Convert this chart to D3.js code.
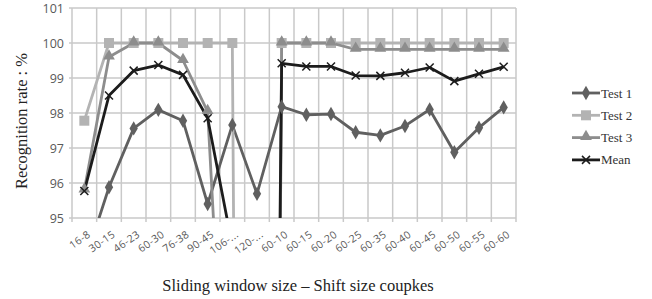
<!doctype html>
<html lang="en">
<head>
  <meta charset="utf-8">
  <title>Recognition rate</title>
  <style>
    body { margin: 0; background: #fff; }
    .grid line { stroke: #c9c9c9; stroke-width: 1.5; }
    .tick-lbl { font: 12.5px "Open Sans", sans-serif; fill: #595959; }
    .x-lbl { font: 10.5px "Open Sans", sans-serif; fill: #595959; letter-spacing: 0.4px; }
    .title { font: 16.5px "Liberation Serif", serif; fill: #222; }
    .legend text { font: 13px "Liberation Serif", serif; fill: #333; }
  </style>
</head>
<body>
  <svg id="chart" width="652" height="299"></svg>
  <script src="https://d3js.org/d3.v7.min.js"></script>
  <script>
// categories (window size - shift size)
const categories = ['16-8', '30-15', '46-23', '60-30', '76-38', '90-45', '106-...', '120-...',
  '60-10', '60-15', '60-20', '60-25', '60-35', '60-40', '60-45', '60-50', '60-55', '60-60'];

// recognition rates
const test1 = [93.7, 95.88, 97.56, 98.09, 97.78, 95.4, 97.66, 95.69,
  98.18, 97.95, 97.97, 97.45, 97.36, 97.63, 98.1, 96.88, 97.58, 98.16];
const test2 = [97.78, 100, 100, 100, 100, 100, 100, 0,
  100, 100, 100, 100, 100, 100, 100, 100, 100, 100];
const test3 = [95.8, 99.6, 100, 100, 99.5, 98.04, 85, 0,
  100, 100, 100, 99.82, 99.82, 99.82, 99.82, 99.82, 99.82, 99.82];
const mean = [95.77, 98.5, 99.21, 99.37, 99.09, 97.85, 94.2, 31.9,
  99.42, 99.33, 99.33, 99.07, 99.06, 99.15, 99.3, 98.91, 99.12, 99.32];

const yTicks = [95, 96, 97, 98, 99, 100, 101];

const series = [
  { name: 'Test 1', values: test1, color: '#606060', marker: 'diamond' },
  { name: 'Test 2', values: test2, color: '#b3b3b3', marker: 'square' },
  { name: 'Test 3', values: test3, color: '#8d8d8d', marker: 'triangle' },
  { name: 'Mean', values: mean, color: '#1c1c1c', marker: 'cross' }
];

const svg = d3.select('#chart');
const plotLeft = 72, plotRight = 516, plotTop = 8, plotBottom = 218;

const x = d3.scaleBand().domain(categories).range([plotLeft, plotRight]);
const y = d3.scaleLinear().domain([95, 101]).range([plotBottom, plotTop]);

// grid
const grid = svg.append('g').attr('class', 'grid');
grid.selectAll('.h').data(yTicks).join('line')
  .attr('x1', plotLeft - 3).attr('x2', plotRight)
  .attr('y1', d => y(d)).attr('y2', d => y(d));
const bounds = categories.map(c => x(c)).concat([plotRight]);
grid.selectAll('.v').data(bounds).join('line')
  .attr('x1', d => d).attr('x2', d => d)
  .attr('y1', plotTop).attr('y2', plotBottom + 4);

// y labels
svg.append('g').selectAll('text').data(yTicks).join('text')
  .attr('class', 'tick-lbl')
  .attr('x', plotLeft - 8).attr('y', d => y(d) + 4.5)
  .attr('text-anchor', 'end')
  .text(d => d);

// x labels
svg.append('g').selectAll('text').data(categories).join('text')
  .attr('class', 'x-lbl')
  .attr('text-anchor', 'end')
  .attr('transform', d => 'translate(' + (x(d) + x.bandwidth() / 2 + 7) + ',' + (plotBottom + 18) + ') rotate(-35)')
  .text(d => d);

// titles
svg.append('text').attr('class', 'title')
  .attr('transform', 'translate(27,121) rotate(-90)')
  .attr('text-anchor', 'middle')
  .text('Recognition rate : %');
svg.append('text').attr('class', 'title')
  .attr('x', 298).attr('y', 291)
  .attr('text-anchor', 'middle')
  .text('Sliding window size \u2013 Shift size coupkes');

// clip to plot
svg.append('clipPath').attr('id', 'clip')
  .append('rect').attr('x', plotLeft - 10).attr('y', plotTop - 10)
  .attr('width', plotRight - plotLeft + 20).attr('height', plotBottom - plotTop + 10);

const line = d3.line()
  .x((d, i) => x(categories[i]) + x.bandwidth() / 2)
  .y(d => y(d));

function drawMarker(g, type, color, cx, cy) {
  if (type === 'diamond') {
    g.append('path').attr('d', d3.symbol(d3.symbolDiamond, 60)())
      .attr('transform', 'translate(' + cx + ',' + cy + ')').attr('fill', color);
  } else if (type === 'square') {
    g.append('rect').attr('x', cx - 5).attr('y', cy - 5).attr('width', 10).attr('height', 10)
      .attr('fill', color);
  } else if (type === 'triangle') {
    g.append('path').attr('d', d3.symbol(d3.symbolTriangle, 60)())
      .attr('transform', 'translate(' + cx + ',' + (cy - 1) + ')').attr('fill', color);
  } else {
    g.append('path').attr('d', 'M-4,-4L4,4M-4,4L4,-4')
      .attr('transform', 'translate(' + cx + ',' + cy + ')')
      .attr('stroke', color).attr('stroke-width', 1.5).attr('fill', 'none');
  }
}

const plot = svg.append('g').attr('clip-path', 'url(#clip)');
series.forEach(s => {
  plot.append('path').datum(s.values)
    .attr('d', line)
    .attr('fill', 'none')
    .attr('stroke', s.color)
    .attr('stroke-width', 2.8)
    .attr('stroke-linejoin', 'round');
});
series.forEach(s => {
  const g = plot.append('g');
  s.values.forEach((v, i) => {
    if (v < 95) return;
    drawMarker(g, s.marker, s.color, x(categories[i]) + x.bandwidth() / 2, y(v));
  });
});

// legend
const legend = svg.append('g').attr('class', 'legend');
series.forEach((s, i) => {
  const ly = 93 + i * 22.3;
  const g = legend.append('g');
  g.append('line').attr('x1', 572).attr('x2', 600).attr('y1', ly).attr('y2', ly)
    .attr('stroke', s.color).attr('stroke-width', 2.8);
  drawMarker(g, s.marker, s.color, 586, ly);
  g.append('text').attr('x', 601).attr('y', ly + 4.5).text(s.name);
});
  </script>
</body>
</html>
